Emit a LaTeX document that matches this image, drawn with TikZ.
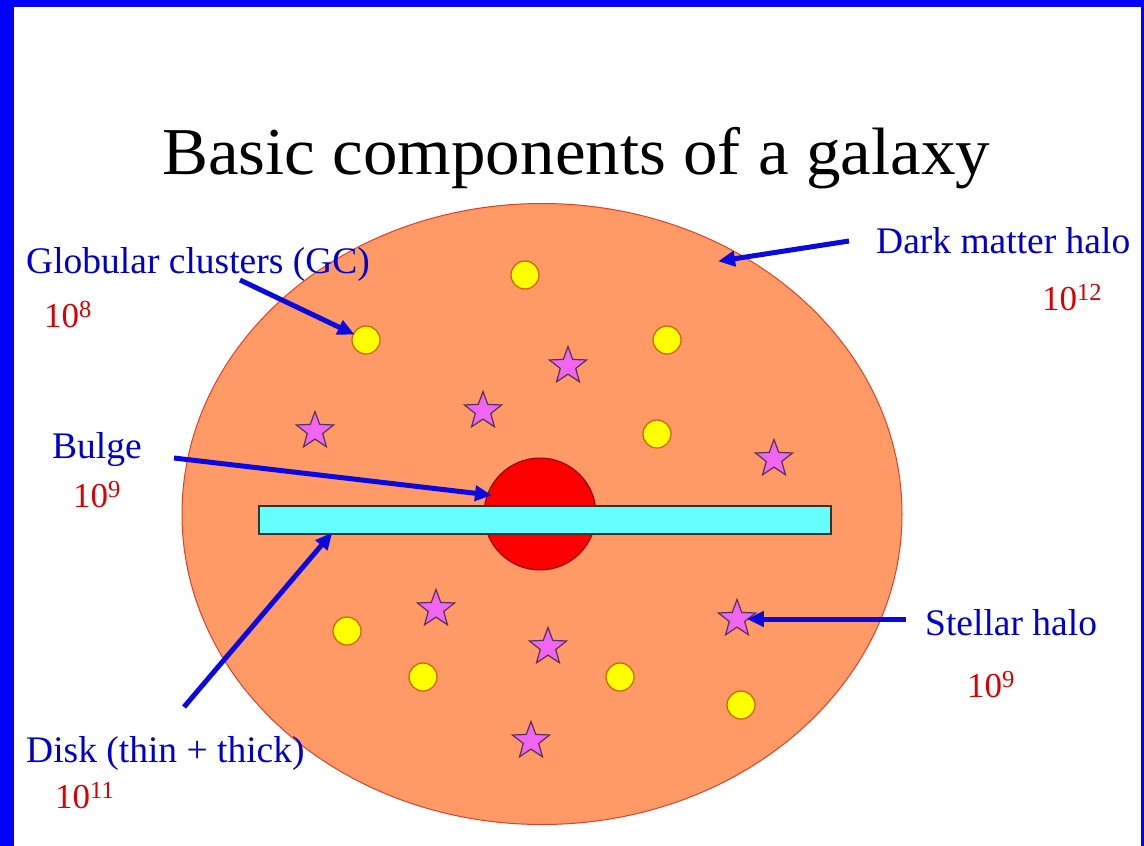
\documentclass[tikz,border=0pt]{standalone}
\usepackage{fontspec}
\setmainfont{Liberation Serif}
\usetikzlibrary{shapes.geometric,arrows.meta}
\definecolor{frameblue}{HTML}{0000FF}
\definecolor{labelblue}{HTML}{0000CC}
\definecolor{arrowblue}{HTML}{0A0AE0}
\definecolor{numred}{HTML}{DD0000}
\definecolor{halofill}{HTML}{FF9966}
\definecolor{halodraw}{HTML}{E0402A}
\definecolor{gcfill}{HTML}{FFFF00}
\definecolor{gcdraw}{HTML}{D06000}
\definecolor{starfill}{HTML}{F066F0}
\definecolor{stardraw}{HTML}{553355}
\definecolor{diskfill}{HTML}{66FFFF}
\definecolor{bulgedraw}{HTML}{880000}
\begin{document}
\begin{tikzpicture}[x=1pt,y=-1pt,
  gcdot/.style={circle,fill=gcfill,draw=gcdraw,line width=1.2pt,minimum size=28pt,inner sep=0pt},
  halostar/.style={star,star points=5,star point ratio=2.4,fill=starfill,draw=stardraw,line width=1.2pt,minimum size=39pt,inner sep=0pt},
  lbl/.style={text=labelblue,font=\fontsize{37.5}{40}\selectfont,anchor=base west,inner sep=0pt},
  num/.style={text=numred,font=\fontsize{35}{40}\selectfont,anchor=base west,inner sep=0pt},
  pointer/.style={draw=arrowblue,line width=5pt,-{Triangle[length=17pt,width=15pt]},shorten >=-2pt}]
\useasboundingbox (0,0) rectangle (1144,846);
\fill[white] (0,0) rectangle (1144,846);
% frame
\fill[frameblue] (0,0) rectangle (14,846);
\fill[frameblue] (0,0) rectangle (1144,7);
\fill[frameblue] (1141,0) rectangle (1144,846);
% title
\node[anchor=base,inner sep=0pt,font=\fontsize{67}{72}\selectfont,xscale=1.03] (title) at (576,174) {Basic components of a galaxy};
% dark matter halo
\node[ellipse,fill=halofill,draw=halodraw,line width=1pt,minimum width=720pt,minimum height=621pt,inner sep=0pt] (halo) at (542,514) {};
% globular clusters
\node[gcdot] (gc1) at (525,275) {};
\node[gcdot] (gc2) at (366,340) {};
\node[gcdot] (gc3) at (667,340) {};
\node[gcdot] (gc4) at (657,434) {};
\node[gcdot] (gc5) at (347,631) {};
\node[gcdot] (gc6) at (423,677) {};
\node[gcdot] (gc7) at (620,677) {};
\node[gcdot] (gc8) at (741,705) {};
% stellar halo stars
\node[halostar] (st1) at (568,366) {};
\node[halostar] (st2) at (483,411) {};
\node[halostar] (st3) at (315,431) {};
\node[halostar] (st4) at (774,459) {};
\node[halostar] (st5) at (436,609) {};
\node[halostar] (st6) at (548,647) {};
\node[halostar] (st7) at (737,619) {};
\node[halostar] (st8) at (531,741) {};
% bulge
\node[circle,fill=red,draw=bulgedraw,line width=1pt,minimum size=112pt,inner sep=0pt] (bulge) at (540,514) {};
% disk
\node[rectangle,fill=diskfill,draw=black!80,line width=1.2pt,minimum width=572pt,minimum height=28pt,inner sep=0pt] (disk) at (545,520) {};
% labels
\node[lbl] (gclbl) at (26,273) {Globular clusters (GC)};
\node[num] (gcnum) at (44,327) {10\textsuperscript{8}};
\node[lbl] (bulgelbl) at (52,458) {Bulge};
\node[num] (bulgenum) at (73,507) {10\textsuperscript{9}};
\node[lbl] (disklbl) at (26,762) {Disk (thin + thick)};
\node[num] (disknum) at (55,808) {10\textsuperscript{11}};
\node[lbl] (dmlbl) at (876,253) {Dark matter halo};
\node[num] (dmnum) at (1042,310) {10\textsuperscript{12}};
\node[lbl] (shlbl) at (925,635) {Stellar halo};
\node[num] (shnum) at (967,697) {10\textsuperscript{9}};
% arrow tails and free heads
\coordinate (gctail) at (240,280);
\coordinate (dmtail) at (849,241);
\coordinate (dmhead) at (720,261);
\coordinate (bulgetail) at (174,458);
\coordinate (bulgehead) at (490,495);
\coordinate (disktail) at (184,707);
\coordinate (diskhead) at (331,534);
\coordinate (shtail) at (906,619);
% arrows
\draw[pointer] (gctail) -- (gc2);
\draw[pointer] (dmtail) -- (dmhead);
\draw[pointer] (bulgetail) -- (bulgehead);
\draw[pointer] (disktail) -- (diskhead);
\draw[pointer] (shtail) -- (st7);
\end{tikzpicture}
\end{document}
